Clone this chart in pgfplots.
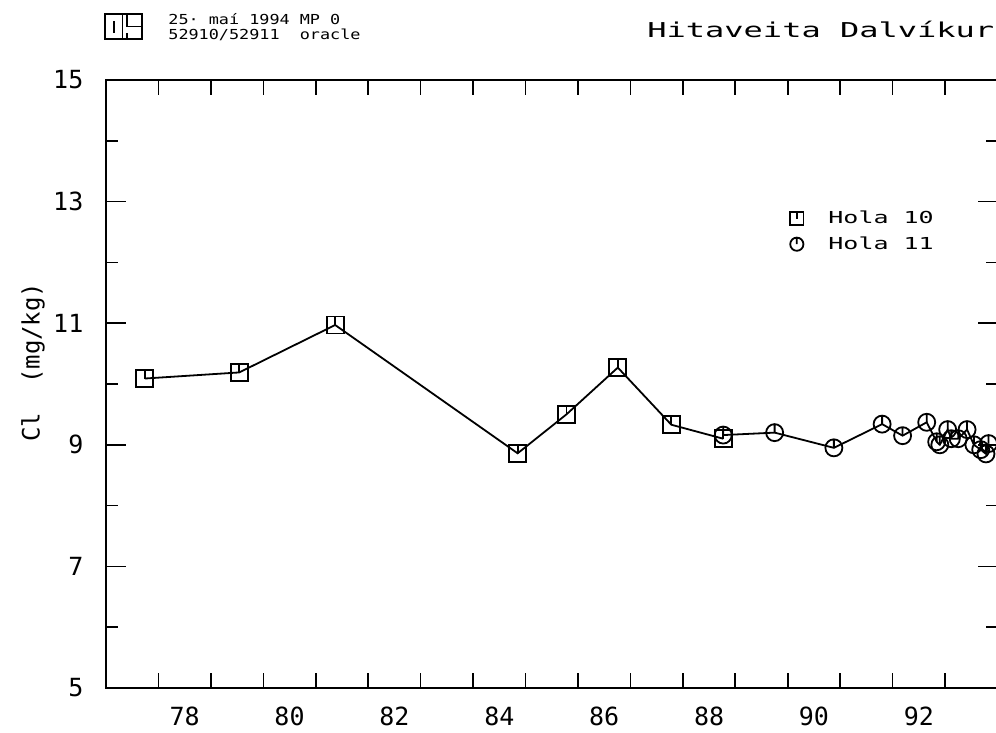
\documentclass[border=0pt]{standalone}
\usepackage{pgfplots}
\pgfplotsset{compat=1.18}
\usepackage{fontspec}
\setmainfont{DejaVu Sans Mono}
\setmonofont{DejaVu Sans Mono}
\pgfdeclareplotmark{sqt}{%
  \pgfpathrectangle{\pgfpoint{-\pgfplotmarksize}{-\pgfplotmarksize}}{\pgfpoint{2\pgfplotmarksize}{2\pgfplotmarksize}}%
  \pgfpathmoveto{\pgfpoint{0pt}{\pgfplotmarksize}}%
  \pgfpathlineto{\pgfpointorigin}%
  \pgfusepathqstroke}
\pgfdeclareplotmark{cit}{%
  \pgfpathcircle{\pgfpointorigin}{\pgfplotmarksize}%
  \pgfpathmoveto{\pgfpoint{0pt}{\pgfplotmarksize}}%
  \pgfpathlineto{\pgfpointorigin}%
  \pgfusepathqstroke}
\begin{document}
\begin{tikzpicture}[x=1pt,y=1pt]
\begin{axis}[
  at={(0,0)}, anchor=south west,
  scale only axis, width=445.75pt, height=304pt,
  xmin=77, xmax=94, ymin=5, ymax=15,
  axis line style={line width=0.8pt},
  every tick/.style={black, line width=0.8pt},
  /pgf/number format/assume math mode=true,
  xtick={78,...,93},
  xticklabels={78,,80,,82,,84,,86,,88,,90,,92,},
  xtick style={/pgfplots/major tick length=7.5pt},
  ytick={5,7,...,15}, minor ytick={6,8,...,14},
  major tick length=10pt, minor tick length=6pt,
  tick label style={font=\fontsize{12.5}{14}\selectfont},
  xticklabel style={yshift=-5.8pt, xshift=13.11pt},
  yticklabel style={xshift=-7.8pt},
  legend style={draw=none, fill=none, at={(axis cs:90.04,12.51)}, anchor=west,
    inner sep=0pt, row sep=2pt, column sep=11pt, font=\fontsize{12.5}{12.5}\selectfont,
    nodes={inner sep=1.5pt}},
  legend cell align=left,
  legend image code/.code={\draw[#1, mark size=3.3pt] plot coordinates {(0.3cm,0cm)};},
]
\addplot[black, line width=0.9pt, forget plot] coordinates {
 (77.74,10.09) (79.54,10.19) (81.37,10.97) (84.85,8.86) (85.78,9.50)
 (86.76,10.27) (87.78,9.33) (88.77,9.10)};
\addplot[black, line width=0.9pt, forget plot] coordinates {
 (88.77,9.16) (89.75,9.20) (90.88,8.95) (91.80,9.34) (92.19,9.15)
 (92.65,9.37) (92.84,9.05) (92.90,9.00) (93.05,9.25) (93.12,9.10)
 (93.25,9.10) (93.42,9.25) (93.55,9.00) (93.68,8.92) (93.78,8.85) (93.83,9.02)};
\addplot[black, only marks, mark=sqt, mark size=4.25pt, line width=0.9pt] coordinates {
 (77.74,10.09) (79.54,10.19) (81.37,10.97) (84.85,8.86) (85.78,9.50)
 (86.76,10.27) (87.78,9.33) (88.77,9.10)};
\addlegendentry{\scalebox{1}[0.66]{Hola 10}}
\addplot[black, only marks, mark=cit, mark size=4.25pt, line width=0.9pt] coordinates {
 (88.77,9.16) (89.75,9.20) (90.88,8.95) (91.80,9.34) (92.19,9.15)
 (92.65,9.37) (92.84,9.05) (92.90,9.00) (93.05,9.25) (93.12,9.10)
 (93.25,9.10) (93.42,9.25) (93.55,9.00) (93.68,8.92) (93.78,8.85) (93.83,9.02)};
\addlegendentry{\scalebox{1}[0.66]{Hola 11}}
\end{axis}
% y label
\node[rotate=90, font=\fontsize{12}{14}\selectfont] at (-36.5,162.9) {Cl\ \ (mg/kg)};
% header and title
\node[anchor=base west, inner sep=0pt, font=\fontsize{16}{16}\selectfont] at (270.5,325) {\scalebox{1}[0.64]{Hitaveita Dalvíkur}};
\node[anchor=base west, inner sep=0pt, font=\fontsize{8.4}{8.4}\selectfont] at (31,331.5) {\scalebox{1}[0.82]{25· maí 1994 MP 0}};
\node[anchor=base west, inner sep=0pt, font=\fontsize{8.4}{8.4}\selectfont] at (31,324) {\scalebox{1}[0.82]{52910/52911\ \ oracle}};
\begin{scope}[line width=0.7pt]
\draw (-0.5,324.5) rectangle (18,337);
\draw (8.3,324.5) -- (8.3,337);
\draw (4,327.5) -- (4,333.5);
\draw (10.5,337) -- (10.5,330.8) -- (18,330.8);
\draw (10.5,324.5) -- (10.5,327.5);
\end{scope}
\pgfresetboundingbox
\useasboundingbox (-53,-22.5) rectangle (445,344);
\end{tikzpicture}
\end{document}
